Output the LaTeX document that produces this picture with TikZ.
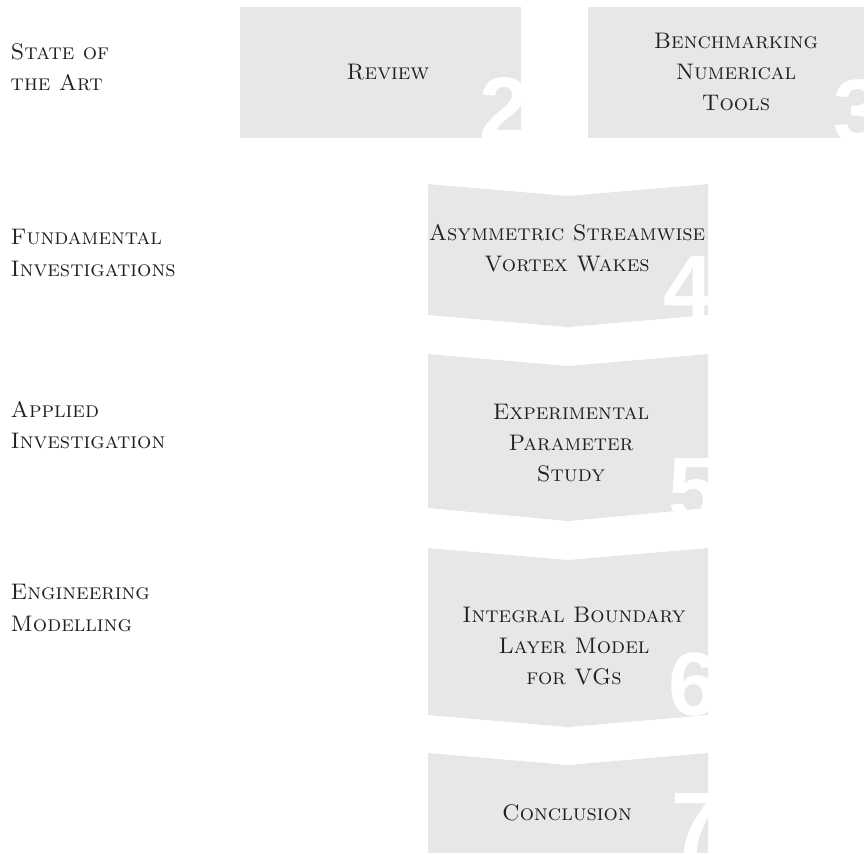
\documentclass[tikz,border=0pt]{standalone}
\usepackage{fontspec}
\newfontfamily\numfont{Liberation Sans}
\definecolor{boxgray}{HTML}{E6E7E8}
\definecolor{ink}{HTML}{231F20}

\begin{document}
\begin{tikzpicture}[x=0.01cm, y=-0.01cm,
  box/.style={fill=boxgray},
  side/.style={anchor=west, align=left, inner sep=0, text=ink, font=\fontsize{6.4}{8.9}\selectfont\scshape},
  title/.style={align=center, inner sep=0, text=ink, font=\fontsize{6.4}{8.9}\selectfont\scshape},
  num/.style={anchor=base west, inner sep=0, text=white, font=\numfont\bfseries\fontsize{25.6}{25.6}\selectfont}]
\useasboundingbox (0,0) rectangle (864,853);
\clip (0,0) rectangle (864,853);

% top row
\begin{scope}
\clip (240,7) rectangle (521,137);
\fill[box] (0,0) rectangle (864,853);
\node[num] (n2) at (479,140) {2};
\end{scope}
\begin{scope}
\clip (588,7) rectangle (870,137);
\fill[box] (0,0) rectangle (864,853);
\node[num] (n3) at (833,142) {3};
\end{scope}

% chevrons
\begin{scope}
\clip (428,184) -- (568,196) -- (708,184) -- (708,315) -- (568,327) -- (428,315) -- cycle;
\fill[box] (0,0) rectangle (864,853);
\node[num] (n4) at (663,318) {4};
\end{scope}
\begin{scope}
\clip (428,354) -- (568,366) -- (708,354) -- (708,508) -- (568,521) -- (428,508) -- cycle;
\fill[box] (0,0) rectangle (864,853);
\node[num] (n5) at (668,520) {5};
\end{scope}
\begin{scope}
\clip (428,548) -- (568,560) -- (708,548) -- (708,715) -- (568,727) -- (428,715) -- cycle;
\fill[box] (0,0) rectangle (864,853);
\node[num] (n6) at (668,715) {6};
\end{scope}
\begin{scope}
\clip (428,753) -- (568,765) -- (708,753) -- (708,860) -- (428,860) -- cycle;
\fill[box] (0,0) rectangle (864,853);
\node[num] (n7) at (671,855) {7};
\end{scope}

\node[title] (review) at (388,72) {Review};
\node[title] (bench) at (736,72) {Benchmarking\\Numerical\\Tools};
\node[title] (asym) at (567,248) {Asymmetric Streamwise\\Vortex Wakes};
\node[title] (exper) at (571,443) {Experimental\\Parameter\\Study};
\node[title] (ibl) at (574,646) {Integral Boundary\\Layer Model\\for VGs};
\node[title] (concl) at (567,813) {Conclusion};

\node[side] (sota) at (10,67) {State of\\the Art};
\node[side] (fund) at (10,253) {Fundamental\\Investigations};
\node[side] (appl) at (10,425) {Applied\\Investigation};
\node[side] (eng) at (10,608) {Engineering\\Modelling};
\end{tikzpicture}
\end{document}
